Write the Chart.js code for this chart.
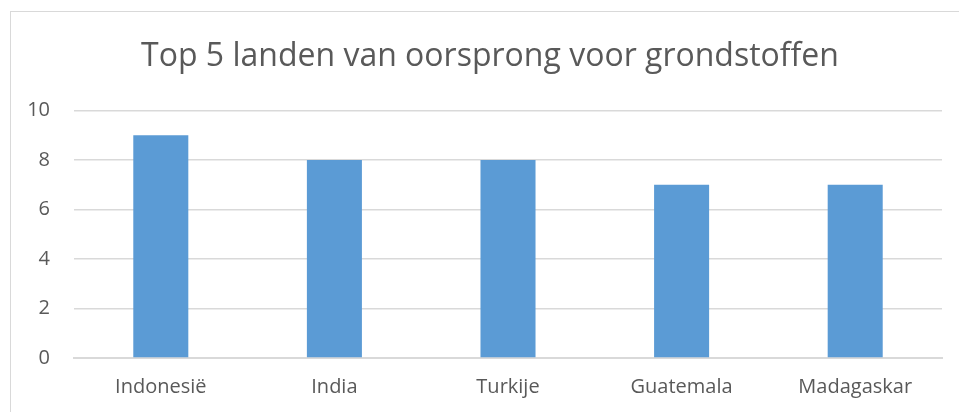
<!DOCTYPE html>
<html>
<head>
<meta charset="utf-8">
<script src="https://cdn.jsdelivr.net/npm/chart.js@4"></script>
<style>
  html, body { margin: 0; padding: 0; background: #fff; overflow: hidden; width: 959px; height: 412px; }
  #frame { position: absolute; left: 10px; top: 11px; width: 1000px; height: 500px; border: 1px solid #d9d9d9; box-sizing: border-box; }
  #wrap { position: absolute; left: 0; top: 0; width: 959px; height: 412px; }
</style>
</head>
<body>
<div id="frame"></div>
<div id="wrap"><canvas id="c" width="959" height="412"></canvas></div>
<script>
const chartTitle = "Top 5 landen van oorsprong voor grondstoffen";
const categories = ["Indonesië", "India", "Turkije", "Guatemala", "Madagaskar"];
const values = [9, 8, 8, 7, 7];
const yTicks = [0, 2, 4, 6, 8, 10];

const textColor = "#595959";
const font = "'Open Sans', 'Noto Sans', sans-serif";

const titleShift = {
  id: "titleShift",
  afterLayout(chart) {
    if (chart.titleBlock) { chart.titleBlock.left += 38; }
  }
};

new Chart(document.getElementById("c"), {
  type: "bar",
  data: {
    labels: categories,
    datasets: [{
      data: values,
      backgroundColor: "#5B9BD5",
      borderWidth: 0,
      categoryPercentage: 1,
      barPercentage: 0.317
    }]
  },
  plugins: [titleShift],
  options: {
    responsive: false,
    animation: false,
    layout: { padding: { left: 0, right: 17, top: 0, bottom: 0 } },
    plugins: {
      legend: { display: false },
      tooltip: { enabled: false },
      title: {
        display: true,
        text: chartTitle,
        color: textColor,
        font: { family: font, size: 32, weight: "normal" },
        padding: { top: 38, bottom: 34 }
      }
    },
    scales: {
      x: {
        grid: { display: false, drawTicks: false },
        border: { display: true, color: "#d9d9d9", width: 2 },
        ticks: { color: textColor, font: { family: font, size: 20 }, padding: 17, maxRotation: 0 },
        afterFit: s => { s.height = 54; }
      },
      y: {
        min: 0, max: 10,
        afterBuildTicks: s => { s.ticks = yTicks.map(v => ({ value: v })); },
        grid: { color: "#d9d9d9", lineWidth: 1.5, drawTicks: false },
        border: { display: false },
        ticks: { color: textColor, font: { family: font, size: 20 }, padding: 24 },
        afterFit: s => { s.width = 74; }
      }
    }
  }
});
</script>
</body>
</html>
